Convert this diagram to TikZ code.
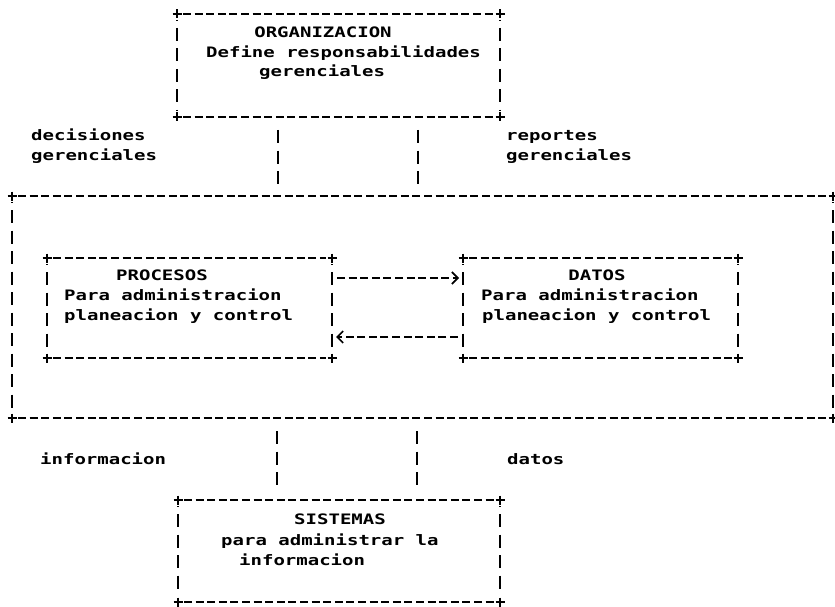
\documentclass[tikz,border=0pt]{standalone}
\usepackage{fontspec}
\setmainfont{DejaVu Sans Mono}[FakeStretch=1.32]
\usetikzlibrary{arrows.meta}
\tikzset{
  boxnode/.style={draw=none,inner sep=0pt,outer sep=0pt},
  hd/.style={line width=1.6pt,dash pattern=on 8pt off 3.6pt,shorten <=6pt,shorten >=6pt},
  vd/.style={line width=1.7pt,dash pattern=on 13pt off 7.5pt,dash phase=-8pt,shorten <=6pt,shorten >=6pt},
  plus/.style={line width=1.6pt},
  txt/.style={inner sep=0pt,font=\bfseries\fontsize{14.4}{16}\selectfont},
  lw/.style={txt,anchor=mid west},
  lc/.style={txt,anchor=mid},
  arr/.style={line width=1.6pt,dash pattern=on 8pt off 3.6pt,-{Straight Barb[length=6pt,width=12pt,line width=1.6pt]}},
}
\newcommand\drawabox[1]{%
  \draw[hd] (#1.north west) -- (#1.north east);
  \draw[hd] (#1.south west) -- (#1.south east);
  \draw[vd] (#1.north west) -- (#1.south west);
  \draw[vd] (#1.north east) -- (#1.south east);
  \foreach \c in {north west,north east,south west,south east}
    {\draw[plus] (#1.\c) +(-4.5,0) -- +(4.5,0) (#1.\c) +(0,-4.5) -- +(0,4.5);}
}
\begin{document}
\begin{tikzpicture}[x=1pt,y=-1pt]
\useasboundingbox[fill=white] (0,0) rectangle (835,607);
% boxes
\node[boxnode,minimum width=323pt,minimum height=103pt] (org) at (338.5,65.5) {};
\node[boxnode,minimum width=821pt,minimum height=222pt] (big) at (422.5,307) {};
\node[boxnode,minimum width=285pt,minimum height=100pt] (proc) at (189.5,308) {};
\node[boxnode,minimum width=275pt,minimum height=100pt] (datos) at (600.5,308) {};
\node[boxnode,minimum width=322pt,minimum height=102pt] (sis) at (339,551) {};
\drawabox{org}
\drawabox{big}
\drawabox{proc}
\drawabox{datos}
\drawabox{sis}
% texts in boxes
\node[lc] (t1) at (323,35) {ORGANIZACION};
\node[lw] (t2) at (206,55) {Define responsabilidades};
\node[lw] (t3) at (259,74) {gerenciales};
\node[lc] (t4) at (162,278) {PROCESOS};
\node[lw] (t5) at (64,298) {Para administracion};
\node[lw] (t6) at (64,318) {planeacion y control};
\node[lc] (t7) at (597,278) {DATOS};
\node[lw] (t8) at (481,298) {Para administracion};
\node[lw] (t9) at (482,318) {planeacion y control};
\node[lc] (t10) at (340,522) {SISTEMAS};
\node[lw] (t11) at (221,543) {para administrar la};
\node[lw] (t12) at (239,563) {informacion};
% outside labels
\node[lw] (l1) at (31,138) {decisiones};
\node[lw] (l2) at (31,158) {gerenciales};
\node[lw] (l3) at (506,138) {reportes};
\node[lw] (l4) at (506,158) {gerenciales};
\node[lw] (l5) at (40,462) {informacion};
\node[lw] (l6) at (507,462) {datos};
% vertical connectors
\coordinate (c1) at (278,0);
\coordinate (c2) at (418,0);
\coordinate (c3) at (277,0);
\coordinate (c4) at (417,0);
\draw[vd,dash phase=-7pt] (org.south -| c1) -- (big.north -| c1);
\draw[vd,dash phase=-7pt] (org.south -| c2) -- (big.north -| c2);
\draw[vd,dash phase=-7pt,shorten >=9pt] (big.south -| c3) -- (sis.north -| c3);
\draw[vd,dash phase=-7pt,shorten >=9pt] (big.south -| c4) -- (sis.north -| c4);
% arrows between procesos and datos
\coordinate (ya) at (0,278);
\coordinate (yb) at (0,337);
\draw[arr,shorten <=5pt,shorten >=4pt] (proc.east |- ya) -- (datos.west |- ya);
\draw[arr,shorten <=5pt,shorten >=4pt] (datos.west |- yb) -- (proc.east |- yb);
\end{tikzpicture}
\end{document}
